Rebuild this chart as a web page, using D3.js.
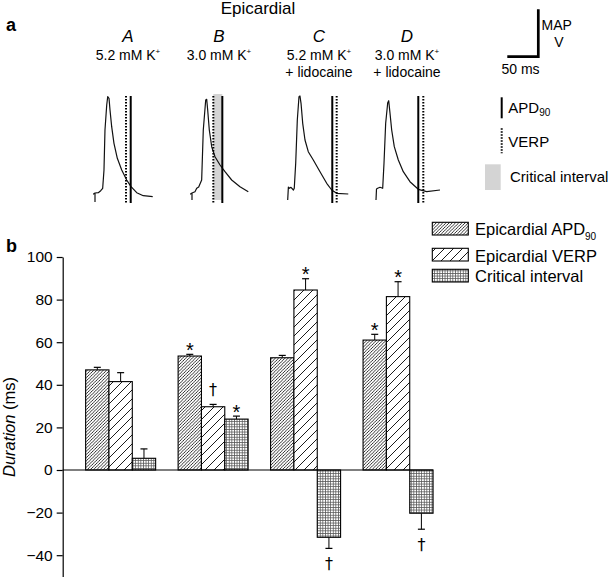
<!DOCTYPE html>
<html><head><meta charset="utf-8">
<script src="https://cdn.jsdelivr.net/npm/d3@7"></script>
<style>body{margin:0;background:#fff}svg{display:block;font-family:"Liberation Sans",Arial,sans-serif}</style>
</head><body>
<svg id="c" width="609" height="578"></svg>
<script>
// ---------- DATA ----------
const groups = ["A", "B", "C", "D"];
const seriesNames = ["Epicardial APD", "Epicardial VERP", "Critical interval"];
const apdMean = [47.0, 53.5, 52.7, 61.0];
const apdErr = [1.2, 0.8, 1.1, 2.7];
const verpMean = [41.5, 29.7, 84.5, 81.4];
const verpErr = [4.2, 1.1, 5.3, 7.0];
const ciMean = [5.5, 23.9, -31.6, -20.3];
const ciErr = [4.4, 1.4, 5.2, 7.5];
const marks = [["", "", ""], ["*", "\u2020", "*"], ["", "*", "\u2020"], ["*", "*", "\u2020"]];
const yTicks = [-40, -20, 0, 20, 40, 60, 80, 100];

const panelLetters = ["A", "B", "C", "D"];
const panelLine1 = ["5.2 mM K", "3.0 mM K", "5.2 mM K", "3.0 mM K"];
const panelLine2 = ["", "", "+ lidocaine", "+ lidocaine"];
// MAP traces: time (ms from stimulus), amplitude (arbitrary units)
const traceT = [
  [0,0,-2.4,0,5.3,9.2,12.4,14.5,16.1,18.9,20.5,22.6,24.2,26.9,30.6,36,43.1,51.1,58.1,67.3,77.9,93.1],
  [0,0,-2.4,0,4.8,7.6,10.8,15.6,18.2,22.1,23.7,25.3,27.9,31.8,37.1,45.2,53.2,64,77.4,90.8],
  [0,1.1,2.6,5.3,9.2,10.6,12.9,15.5,18.2,19.8,21.5,24.2,27.9,33.2,41.3,52.1,62.9,71,79,97.7],
  [0,0.8,2.7,6.5,10.8,12.9,15.6,18.9,20.5,22.6,25.3,29.5,36,44,54.8,68.2,81.8,103.2]
];
const traceA = [
  [-2,7,6,7,7.3,9.3,11.7,30,70,95,103.3,101.7,90,73.3,56.7,41.7,30,20,13.3,7.3,4.3,3.3],
  [0,7,6,7,8.3,11.7,13,20,70,100,100.7,90,70,53.3,43.3,35,28.3,20,13.3,8.3],
  [0,13,11.7,12.7,10,11.7,36.7,80,103.3,104,96.7,76.7,60,48.3,40,28.3,16.7,10,6.7,6],
  [0,11,11.7,12.7,11.7,36.7,76.7,97.3,99.3,86.7,70,53.3,40,28.3,18.3,10.7,8.3,10]
];
const apdTime = [57.6, 48.9, 71.9, 68.2];   // ms from stimulus (solid line)
const verpTime = [50.0, 34.4, 79.0, 76.3];  // ms from stimulus (dotted line)
const scaleBarMs = 50;

// ---------- LAYOUT ----------
const svg = d3.select("#c");
const FONT = '"Liberation Sans",Arial,sans-serif';
const defs = svg.append("defs");

function hatch(id, w, sw) {
  const p = defs.append("pattern").attr("id", id).attr("patternUnits", "userSpaceOnUse")
    .attr("width", w).attr("height", w);
  p.append("rect").attr("width", w).attr("height", w).attr("fill", "#fff");
  p.append("path").attr("d", `M0,${w} L${w},0 M${-w/2},${w/2} L${w/2},${-w/2} M${w/2},${w*1.5} L${w*1.5},${w/2}`)
    .attr("stroke", "#000").attr("stroke-width", sw);
}
hatch("pApd", 3.2, 0.8);
hatch("pVerp", 9, 0.9);
(function () {
  const w = 2.6;
  const p = defs.append("pattern").attr("id", "pCi").attr("patternUnits", "userSpaceOnUse")
    .attr("width", w).attr("height", w);
  p.append("rect").attr("width", w).attr("height", w).attr("fill", "#fff");
  p.append("path").attr("d", `M0,0.4 H${w} M0.4,0 V${w}`).attr("stroke", "#555").attr("stroke-width", 0.8);
})();
const fills = ["url(#pApd)", "url(#pVerp)", "url(#pCi)"];

// ----- Panel a -----
svg.append("text").attr("x", 6).attr("y", 31).attr("font-size", 18).attr("font-weight", "bold").text("a");
svg.append("text").attr("x", 258).attr("y", 14).attr("font-size", 17).attr("text-anchor", "middle").text("Epicardial");

const panelX = [95, 192, 287.7, 376];
const labelX = [128, 219, 319, 407];
const tScale = d3.scaleLinear().domain([0, 50]).range([0, 31]);
const aScale = d3.scaleLinear().domain([0, 100]).range([200, 100]);

groups.forEach((g, i) => {
  svg.append("text").attr("x", labelX[i]).attr("y", 42.3).attr("font-size", 17)
    .attr("font-style", "italic").attr("text-anchor", "middle").text(panelLetters[i]);
  const t1 = svg.append("text").attr("x", labelX[i]).attr("y", 60).attr("font-size", 14)
    .attr("text-anchor", "middle");
  t1.append("tspan").text(panelLine1[i]);
  t1.append("tspan").attr("font-size", 8).attr("dy", -6).text("+");
  if (panelLine2[i]) {
    svg.append("text").attr("x", labelX[i]).attr("y", 77.3).attr("font-size", 14)
      .attr("text-anchor", "middle").text(panelLine2[i]);
  }
  const gx = svg.append("g").attr("transform", `translate(${panelX[i]},0)`);
  if (i === 1) {
    gx.append("rect").attr("x", tScale(verpTime[i])).attr("width", tScale(apdTime[i]) - tScale(verpTime[i]))
      .attr("y", aScale(106)).attr("height", aScale(0) - aScale(106)).attr("fill", "#d4d4d4");
  }
  const pts = traceT[i].map((t, k) => [t, traceA[i][k]]);
  gx.append("path").attr("d", d3.line().x(d => tScale(d[0])).y(d => aScale(d[1]))(pts))
    .attr("fill", "none").attr("stroke", "#111").attr("stroke-width", 1.2).attr("stroke-linejoin", "round");
  gx.append("line").attr("x1", tScale(apdTime[i])).attr("x2", tScale(apdTime[i]))
    .attr("y1", aScale(104)).attr("y2", aScale(-3)).attr("stroke", "#000").attr("stroke-width", 2);
  gx.append("line").attr("x1", tScale(verpTime[i])).attr("x2", tScale(verpTime[i]))
    .attr("y1", aScale(104)).attr("y2", aScale(-3)).attr("stroke", "#000").attr("stroke-width", 2)
    .attr("stroke-dasharray", "1.5,1.5");
});

// scale bar
const sbX = 538.3, sbY = 56.7;
svg.append("path").attr("d", `M${sbX - (tScale(scaleBarMs) - tScale(0))},${sbY} H${sbX} V${sbY - (aScale(0) - aScale(47.4))}`)
  .attr("fill", "none").attr("stroke", "#000").attr("stroke-width", 2.7);
svg.append("text").attr("x", 541.5).attr("y", 30).attr("font-size", 14).text("MAP");
svg.append("text").attr("x", 559).attr("y", 47.3).attr("font-size", 14).attr("text-anchor", "middle").text("V");
svg.append("text").attr("x", 501.5).attr("y", 74).attr("font-size", 14).text("50 ms");

// top legend
svg.append("line").attr("x1", 501.7).attr("x2", 501.7).attr("y1", 97.3).attr("y2", 118.3)
  .attr("stroke", "#000").attr("stroke-width", 2);
const tl1 = svg.append("text").attr("x", 508.3).attr("y", 113.3).attr("font-size", 15);
tl1.append("tspan").text("APD");
tl1.append("tspan").attr("font-size", 10).attr("dy", 3).text("90");
svg.append("line").attr("x1", 501.7).attr("x2", 501.7).attr("y1", 128.3).attr("y2", 153.3)
  .attr("stroke", "#000").attr("stroke-width", 2).attr("stroke-dasharray", "1.5,1.5");
svg.append("text").attr("x", 508.3).attr("y", 146.7).attr("font-size", 15).text("VERP");
svg.append("rect").attr("x", 485).attr("y", 164.3).attr("width", 15.7).attr("height", 25.7).attr("fill", "#d4d4d4");
svg.append("text").attr("x", 510).attr("y", 181.7).attr("font-size", 15).text("Critical interval");

// ----- Panel b -----
svg.append("text").attr("x", 6).attr("y", 251.7).attr("font-size", 18).attr("font-weight", "bold").text("b");

const x0 = d3.scaleBand().domain(groups).range([74.4, 444.3]).paddingInner(0.243).paddingOuter(0.1215);
const x1 = d3.scaleBand().domain([0, 1, 2]).range([0, x0.bandwidth()]);
const y = d3.scaleLinear().domain([-50, 100]).range([576.5, 257]);
const axisX = 62.7;

const ax = svg.append("g").attr("transform", `translate(${axisX},0)`)
  .call(d3.axisLeft(y).tickValues(yTicks).tickSize(6).tickSizeOuter(0).tickPadding(4).tickFormat(d3.format("d")));
ax.select(".domain").attr("stroke", "#000").attr("stroke-width", 1.2);
ax.selectAll(".tick line").attr("stroke", "#000").attr("stroke-width", 1.2);
ax.selectAll(".tick text").attr("font-size", 15.5).attr("font-family", FONT).attr("fill", "#000");

const yl = svg.append("text").attr("transform", `translate(15,427) rotate(-90)`)
  .attr("text-anchor", "middle").attr("font-size", 16.5);
yl.append("tspan").attr("font-style", "italic").text("Duration");
yl.append("tspan").text(" (ms)");

const means = [apdMean, verpMean, ciMean];
const errs = [apdErr, verpErr, ciErr];
const bars = [];
groups.forEach((g, gi) => {
  [0, 1, 2].forEach(s => bars.push({ g, gi, s, v: means[s][gi], e: errs[s][gi], m: marks[gi][s] }));
});

const bg = svg.append("g");
bars.forEach(b => {
  const bx = x0(b.g) + x1(b.s), bw = x1.bandwidth(), cx = bx + bw / 2;
  const end = b.v >= 0 ? b.v + b.e : b.v - b.e;
  bg.append("line").attr("x1", cx).attr("x2", cx).attr("y1", y(b.v)).attr("y2", y(end))
    .attr("stroke", "#000").attr("stroke-width", 1);
  bg.append("line").attr("x1", cx - 3.5).attr("x2", cx + 3.5).attr("y1", y(end)).attr("y2", y(end))
    .attr("stroke", "#000").attr("stroke-width", 1.2);
  bg.append("rect").attr("x", bx).attr("width", bw)
    .attr("y", Math.min(y(b.v), y(0))).attr("height", Math.abs(y(b.v) - y(0)))
    .attr("fill", fills[b.s]).attr("stroke", "#000").attr("stroke-width", 1.1);
  if (b.m === "*") {
    bg.append("text").attr("x", cx).attr("y", y(end) + 2.5).attr("text-anchor", "middle")
      .attr("font-family", FONT).attr("fill", "#000").attr("font-size", 20).text(b.m);
  } else if (b.m) {
    const ty = b.v < 0 ? y(end) + 21 : y(end) - 9;
    bg.append("text").attr("x", cx).attr("y", ty).attr("text-anchor", "middle")
      .attr("font-family", '"DejaVu Sans",sans-serif').attr("fill", "#000")
      .attr("font-size", 16).text(b.m);
  }
});
svg.append("line").attr("x1", axisX).attr("x2", x0("D") + x0.bandwidth()).attr("y1", y(0)).attr("y2", y(0))
  .attr("stroke", "#000").attr("stroke-width", 1.2);

// bottom legend
const legY = [222.3, 248.3, 269.3];
const legBase = [235, 261.7, 282.3];
seriesNames.forEach((n, i) => {
  svg.append("rect").attr("x", 432.3).attr("y", legY[i]).attr("width", 36).attr("height", 12.7)
    .attr("fill", fills[i]).attr("stroke", "#000").attr("stroke-width", 1.1);
  const t = svg.append("text").attr("x", 475).attr("y", legBase[i]).attr("font-size", 16.5);
  t.append("tspan").text(n);
  if (i === 0) t.append("tspan").attr("font-size", 10).attr("dy", 4.5).text("90");
});
</script>
</body></html>
